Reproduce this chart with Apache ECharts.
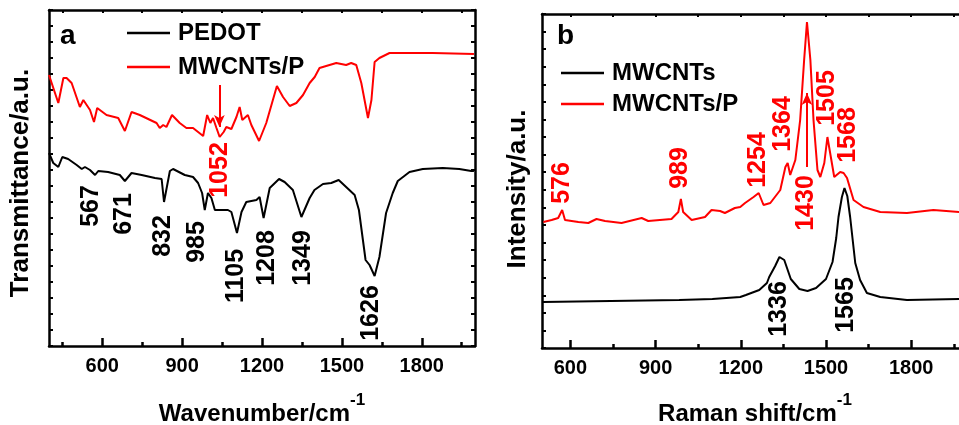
<!DOCTYPE html>
<html>
<head>
<meta charset="utf-8">
<script src="https://cdn.jsdelivr.net/npm/echarts@6/dist/echarts.min.js"></script>
<style>
  html, body { margin: 0; padding: 0; background: #fff; }
  #main { width: 959px; height: 425px; }
</style>
</head>
<body>
<div id="main"></div>
<script>
// FTIR (panel a), wavenumber vs transmittance (a.u.)
const pedotFtir = [
  [400,193],[404,191],[416,183],[435,179],[450,189],[472,187],[504,181],[523,177],[535,179],
  [554,176],[573,171],[585,175],[622,174],[666,171],[685,165],[710,173],[748,171],[798,168],
  [823,167],[832,144],[854,175],[866,177],[910,171],[941,169],[960,163],[975,153],[985,136],
  [997,153],[1010,148],[1023,136],[1048,136],[1072,136],[1085,134],[1106,113],[1123,134],
  [1141,144],[1179,146],[1191,149],[1206,128],[1229,158],[1264,167],[1285,164],[1316,156],
  [1348,129],[1379,148],[1397,156],[1429,162],[1460,163],[1488,166],[1516,159],[1548,151],
  [1564,136],[1579,106],[1589,86],[1604,81],[1623,70],[1641,89],[1666,133],[1691,153],
  [1710,165],[1754,174],[1804,177],[1879,178],[1941,177],[1986,175],[1996,175]
];
const compositeFtir = [
  [400,271],[435,243],[454,268],[466,268],[485,263],[516,239],[529,246],[554,236],[569,224],
  [581,238],[616,231],[660,228],[685,215],[710,234],[741,231],[804,223],[816,218],[829,221],
  [841,219],[862,231],[891,223],[916,218],[941,218],[960,214],[979,210],[994,231],[1006,223],
  [1016,228],[1029,218],[1041,209],[1056,214],[1066,219],[1085,217],[1104,229],[1116,239],
  [1126,226],[1147,231],[1160,221],[1189,205],[1216,223],[1256,260],[1279,249],[1304,240],
  [1329,243],[1354,251],[1379,263],[1398,269],[1416,278],[1441,280],[1479,283],[1516,281],
  [1535,283],[1554,281],[1573,263],[1598,228],[1611,246],[1623,284],[1641,288],[1679,293],
  [1841,293],[1996,292]
];
const pedotPeaks = [
  [559,140,'567'],[681,132,'671'],[827,110,'832'],[955,104,'985'],[1104,70,'1105'],
  [1218,88,'1208'],[1356,88,'1349'],[1608,33,'1626']
];
const compositeFtirPeaks = [[1041,176,'1052']];
const ftirArrow = [[1040,261],[1040,219]];

// Raman (panel b), Raman shift vs intensity (a.u.)
const cntRaman = [
  [502,46],[983,48],[1100,49],[1198,51],[1218,53],[1265,58],[1292,65],[1300,71],[1321,82],
  [1336,91],[1353,88],[1376,69],[1406,59],[1435,57],[1465,60],[1500,69],[1523,86],[1536,110],
  [1544,131],[1556,151],[1565,160],[1575,152],[1585,131],[1603,85],[1620,68],[1644,55],
  [1691,51],[1785,48],[1969,49]
];
const compositeRaman = [
  [505,126],[534,128],[557,130],[571,138],[581,128],[628,126],[663,125],[692,129],[722,127],
  [780,125],[851,130],[874,127],[956,129],[980,136],[989,149],[997,136],[1027,128],[1074,131],
  [1097,138],[1127,137],[1144,135],[1179,140],[1198,141],[1215,145],[1245,151],[1263,155],
  [1280,143],[1304,145],[1339,158],[1357,181],[1365,185],[1374,173],[1392,188],[1409,228],
  [1423,288],[1433,326],[1445,288],[1456,228],[1470,178],[1480,171],[1494,185],[1505,211],
  [1517,191],[1529,171],[1550,176],[1562,175],[1574,170],[1597,148],[1632,141],[1691,136],
  [1785,135],[1878,138],[1969,136]
];
const cntPeaks = [[1336,39,'1336'],[1570,43,'1565']];
const compositeRamanPeaks = [
  [571,165,'576'],[986,180,'989'],[1260,188,'1254'],[1348,224,'1364'],[1430,145,'1430'],
  [1504,250,'1505'],[1578,213,'1568']
];
const ramanArrow = [[1433,181],[1433,255]];

const majorTicks = [600, 900, 1200, 1500, 1800];
const ftirMinor = [450, 750, 1050, 1350, 1650, 1950];
const ramanMinor = [750, 1050, 1350, 1650, 1950];

const FONT = '"Liberation Sans", Arial, sans-serif';
const RED = '#ff0000';

var myChart = echarts.init(document.getElementById('main'));

function bottomAxis(grid, min, name, gap) {
  return {
    gridIndex: grid, type: 'value', position: 'bottom', min: min, max: 2000,
    axisLine: { onZero: false, lineStyle: { color: '#000', width: 2.5 } },
    axisTick: { inside: true, length: 8, customValues: majorTicks, lineStyle: { color: '#000', width: 2.5 } },
    axisLabel: {
      customValues: majorTicks, margin: 10, color: '#000', fontSize: 20, fontWeight: 'bold', fontFamily: FONT,
      formatter: function (v) { return String(v); }
    },
    splitLine: { show: false },
    name: name, nameLocation: 'middle', nameGap: gap,
    nameTextStyle: {
      color: '#000', fontFamily: FONT,
      rich: {
        t: { fontSize: 24, fontWeight: 'bold', fontFamily: FONT, color: '#000', padding: [10, 0, 0, 0], verticalAlign: 'bottom' },
        s: { fontSize: 17, fontWeight: 'bold', fontFamily: FONT, color: '#000', verticalAlign: 'top' }
      }
    }
  };
}
function minorAxis(grid, min, ticks) {
  return {
    gridIndex: grid, type: 'value', position: 'bottom', min: min, max: 2000,
    axisLine: { show: false, onZero: false },
    axisTick: { inside: true, length: 4, customValues: ticks, lineStyle: { color: '#000', width: 2.5 } },
    axisLabel: { show: false }, splitLine: { show: false }
  };
}
function topAxis(grid, min, ticks) {
  return {
    gridIndex: grid, type: 'value', position: 'top', min: min, max: 2000,
    axisLine: { onZero: false, lineStyle: { color: '#000', width: 2.5 } },
    axisTick: { inside: true, length: 3, customValues: ticks, lineStyle: { color: '#000', width: 2 } },
    axisLabel: { show: false }, splitLine: { show: false }
  };
}
function sideAxis(grid, pos, max, interval) {
  return {
    gridIndex: grid, type: 'value', position: pos, min: 0, max: max, interval: interval,
    axisLine: { onZero: false, lineStyle: { color: '#000', width: 2.5 } },
    axisTick: { inside: true, length: 4, lineStyle: { color: '#000', width: 2 } },
    axisLabel: { show: false }, splitLine: { show: false }
  };
}
function peakLabels(grid, data, color) {
  return {
    type: 'scatter', xAxisIndex: grid * 3, yAxisIndex: grid * 2, data: data,
    symbolSize: 0, silent: true, z: 5,
    itemStyle: { opacity: 1 },
    label: {
      show: true, position: 'inside', rotate: 90, color: color, opacity: 1,
      textBorderWidth: 0, textShadowBlur: 0,
      fontSize: 25, fontWeight: 'bold', fontFamily: FONT,
      formatter: function (p) { return p.value[2]; }
    }
  };
}
function arrow(pts) {
  return {
    silent: true, symbol: ['none', 'arrow'], symbolSize: [8, 12],
    lineStyle: { color: RED, width: 2, type: 'solid' }, label: { show: false },
    data: [[{ coord: pts[0] }, { coord: pts[1] }]]
  };
}
function legendAt(names, left, top, gap) {
  return {
    data: names, orient: 'vertical', left: left, top: top, itemGap: gap,
    icon: 'rect', itemWidth: 43, itemHeight: 2.5, selectedMode: false,
    textStyle: { color: '#000', fontSize: 24, fontWeight: 'bold', fontFamily: FONT, padding: [0, 0, 0, 3] }
  };
}
function sideTitle(text, x, y) {
  return {
    type: 'text', x: x, y: y, rotation: Math.PI / 2,
    style: { text: text, fill: '#000', font: 'bold 26px ' + FONT, align: 'center', verticalAlign: 'middle' }
  };
}

let option = {
  animation: false,
  grid: [
    { left: 49, top: 10, width: 426, height: 336, outerBoundsMode: 'none' },
    { left: 542, top: 14, width: 426, height: 334, outerBoundsMode: 'none' }
  ],
  legend: [
    legendAt(['PEDOT', 'MWCNTs/P'], 122, 16, 10),
    legendAt(['MWCNTs', 'MWCNTs/P'], 556, 56, 7)
  ],
  xAxis: [
    bottomAxis(0, 400, '{t|Wavenumber/cm}{s|-1}', 46),
    minorAxis(0, 400, ftirMinor),
    topAxis(0, 400, majorTicks.concat(ftirMinor)),
    bottomAxis(1, 500, '{t|Raman shift/cm}{s|-1}', 44),
    minorAxis(1, 500, ramanMinor),
    topAxis(1, 500, majorTicks.concat(ramanMinor))
  ],
  yAxis: [
    sideAxis(0, 'left', 336, 16),
    sideAxis(0, 'right', 336, 16),
    sideAxis(1, 'left', 334, 334 / 19)
  ],
  graphic: [
    { type: 'text', left: 60, top: 22, style: { text: 'a', fill: '#000', font: 'bold 28px ' + FONT } },
    { type: 'text', left: 557, top: 22, style: { text: 'b', fill: '#000', font: 'bold 28px ' + FONT } },
    sideTitle('Transmittance/a.u.', 21, 183),
    sideTitle('Intensity/a.u.', 518, 189)
  ],
  series: [
    {
      name: 'PEDOT', type: 'line', xAxisIndex: 0, yAxisIndex: 0, data: pedotFtir,
      symbol: 'none', color: '#000', lineStyle: { color: '#000', width: 2 }
    },
    {
      name: 'MWCNTs/P', type: 'line', xAxisIndex: 0, yAxisIndex: 0, data: compositeFtir,
      symbol: 'none', color: RED, lineStyle: { color: RED, width: 2 },
      markLine: arrow(ftirArrow)
    },
    peakLabels(0, pedotPeaks, '#000'),
    peakLabels(0, compositeFtirPeaks, RED),
    {
      name: 'MWCNTs', type: 'line', xAxisIndex: 3, yAxisIndex: 2, data: cntRaman,
      symbol: 'none', color: '#000', lineStyle: { color: '#000', width: 2 }
    },
    {
      name: 'MWCNTs/P', type: 'line', xAxisIndex: 3, yAxisIndex: 2, data: compositeRaman,
      symbol: 'none', color: RED, lineStyle: { color: RED, width: 2 },
      markLine: arrow(ramanArrow)
    },
    peakLabels(1, cntPeaks, '#000'),
    peakLabels(1, compositeRamanPeaks, RED)
  ]
};

myChart.setOption(option);
</script>
</body>
</html>
